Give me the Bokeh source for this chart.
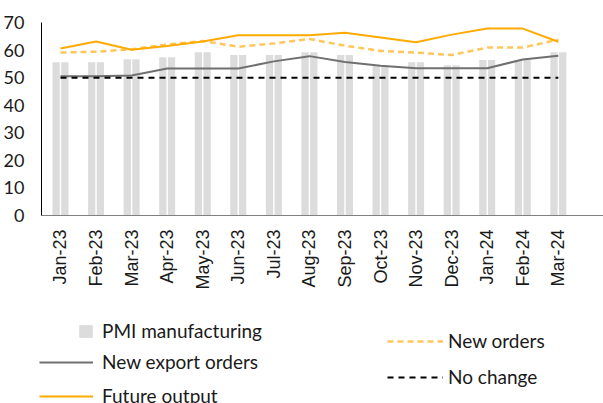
import math
from bokeh.plotting import figure
from bokeh.models import ColumnDataSource, FixedTicker, Legend, LegendItem, Range1d
from bokeh.transform import dodge
from bokeh.embed import file_html
from bokeh.resources import INLINE

months = ["Jan-23", "Feb-23", "Mar-23", "Apr-23", "May-23", "Jun-23", "Jul-23", "Aug-23",
          "Sep-23", "Oct-23", "Nov-23", "Dec-23", "Jan-24", "Feb-24", "Mar-24"]
pmi_manufacturing = [55.6, 55.6, 56.7, 57.4, 59.2, 58.2, 58.2, 59.2, 58.2, 54.3, 55.6, 54.5, 56.4, 56.4, 59.2]
new_export_orders = [50.5, 50.5, 50.8, 53.3, 53.3, 53.3, 55.9, 57.8, 55.7, 54.3, 53.4, 53.4, 53.4, 56.6, 57.9]
future_output = [60.6, 63.1, 60.1, 61.5, 63.1, 65.4, 65.4, 65.4, 66.3, 64.6, 62.8, 65.6, 67.8, 67.8, 63.0]
new_orders = [59.1, 59.4, 60.3, 62.0, 63.3, 61.2, 62.4, 64.0, 61.6, 59.7, 59.1, 58.2, 60.9, 60.9, 63.8]
no_change = [50, 50, 50, 50, 50, 50, 50, 50, 50, 50, 50, 50, 50, 50, 50]
y_ticks = [0, 10, 20, 30, 40, 50, 60, 70]

BAR = "#DCDCDC"
GREY = "#707070"
ORANGE = "#FFAA00"
LIGHT_ORANGE = "#FFC65C"
TEXT = "#1a1a1a"

# visible data window (the frame covers the whole canvas; axes are pinned inside it)
X0, X1 = -0.534, 15.27
Y0, Y1 = 0, 70

idx = list(range(len(months)))
src = ColumnDataSource(dict(x=idx, pmi=pmi_manufacturing, exp=new_export_orders,
                            fut=future_output, nord=new_orders, nc=no_change))

p = figure(width=603, height=403, output_backend="svg", toolbar_location=None,
           x_range=Range1d(-1.687, X1), y_range=Range1d(-68.19, 77.98),
           min_border_left=0, min_border_top=0, min_border_right=0, min_border_bottom=0)
p.outline_line_color = None
p.grid.visible = False

b1 = p.vbar(x=dodge("x", -0.1225), top="pmi", width=0.205, source=src, fill_color=BAR, line_color=None)
p.vbar(x=dodge("x", 0.1225), top="pmi", width=0.205, source=src, fill_color=BAR, line_color=None)
l_exp = p.line("x", "exp", source=src, line_color=GREY, line_width=2)
l_nc = p.line("x", "nc", source=src, line_color="black", line_width=2, line_dash="6 5")
l_nord = p.line("x", "nord", source=src, line_color=LIGHT_ORANGE, line_width=2.5, line_dash="6 4")
l_fut = p.line("x", "fut", source=src, line_color=ORANGE, line_width=2)

p.yaxis.fixed_location = X0
p.yaxis.bounds = (Y0, Y1)
p.yaxis.ticker = FixedTicker(ticks=y_ticks)
p.yaxis.axis_line_color = "black"
p.yaxis.major_tick_line_color = None
p.yaxis.minor_tick_line_color = None
p.yaxis.major_label_standoff = 11
p.yaxis.major_label_text_font = "Lato"
p.yaxis.major_label_text_font_size = "18px"
p.yaxis.major_label_text_color = TEXT

p.xaxis.fixed_location = Y0
p.xaxis.bounds = (X0, X1)
p.xaxis.ticker = FixedTicker(ticks=idx)
p.xaxis.major_label_overrides = {i: m for i, m in enumerate(months)}
p.xaxis.axis_line_color = "#808080"
p.xaxis.major_tick_line_color = None
p.xaxis.minor_tick_line_color = None
p.xaxis.major_label_orientation = math.pi / 2
p.xaxis.major_label_standoff = 8
p.xaxis.major_label_text_font = "Liberation Sans"
p.xaxis.major_label_text_font_size = "18px"
p.xaxis.major_label_text_color = TEXT

def mk_legend(items, loc, gw, gh, spacing, standoff):
    lg = Legend(items=items, location=loc, orientation="vertical",
                glyph_width=gw, glyph_height=gh, label_height=22, label_standoff=standoff,
                spacing=spacing, padding=0, margin=0,
                border_line_color=None, background_fill_alpha=0,
                label_text_font="Lato", label_text_font_size="19px",
                label_text_color=TEXT)
    p.add_layout(lg, "center")
    return lg

mk_legend([LegendItem(label="PMI manufacturing", renderers=[b1])], (77, 61), 17, 16, 0, 8)
mk_legend([LegendItem(label="New export orders", renderers=[l_exp]),
           LegendItem(label="Future output", renderers=[l_fut])], (39, -4), 54, 22, 11, 9)
mk_legend([LegendItem(label="New orders", renderers=[l_nord]),
           LegendItem(label="No change", renderers=[l_nc])], (387, 15), 56, 22, 13, 5)

open("out.html", "w").write(file_html(p, INLINE))
